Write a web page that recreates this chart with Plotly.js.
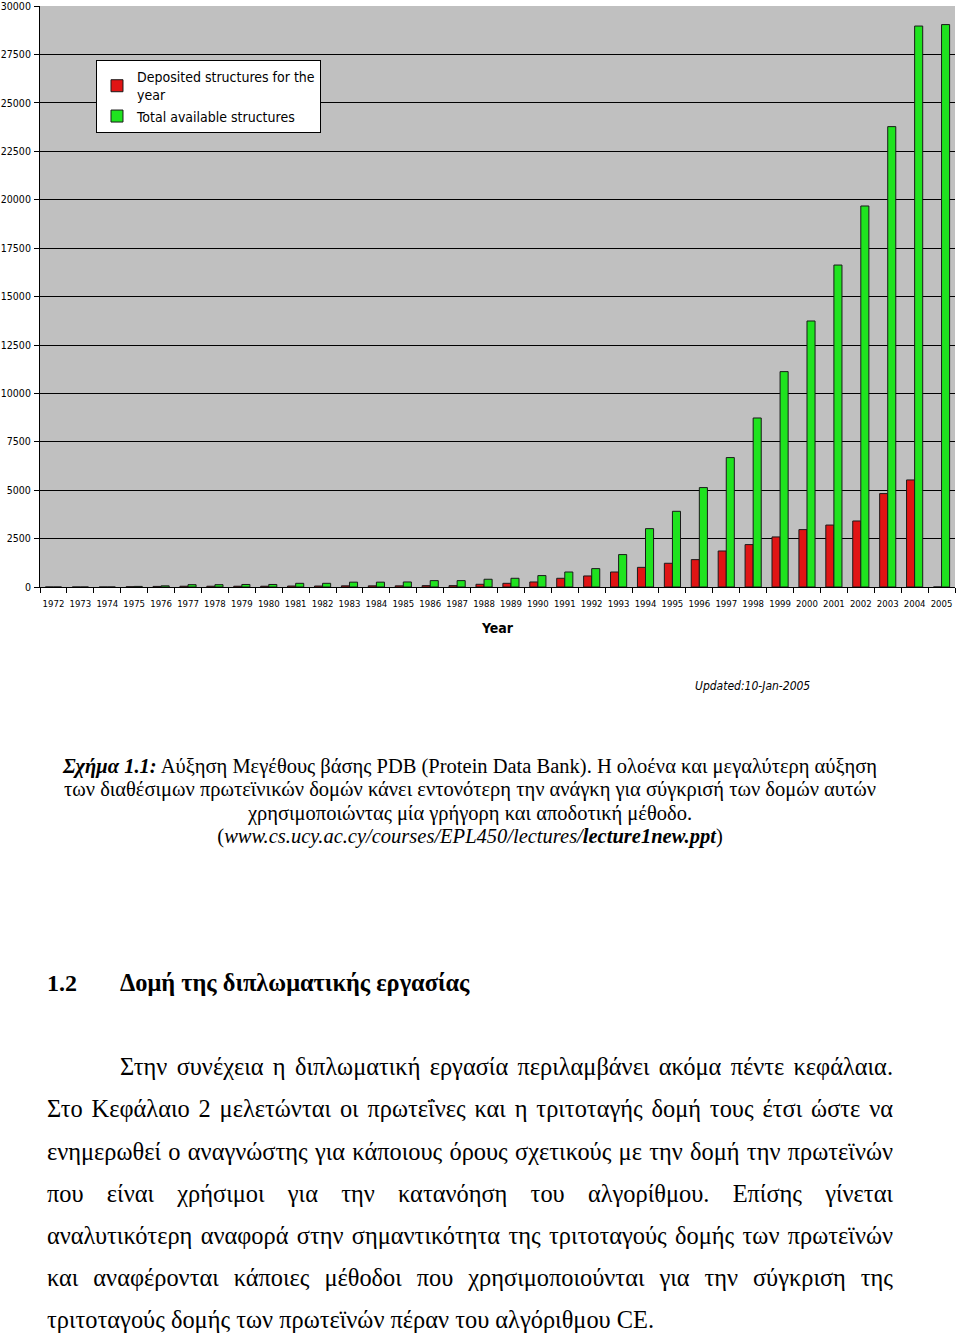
<!DOCTYPE html>
<html>
<head>
<meta charset="utf-8">
<script src="https://cdn.plot.ly/plotly-3.0.1.min.js"></script>
<style>
  html, body { margin: 0; padding: 0; background: #fff; }
  body { width: 960px; height: 1336px; position: relative; overflow: hidden; }
  #chart { position: absolute; left: 0; top: 0; width: 960px; height: 710px; }
  .serif { font-family: "Liberation Serif", "Times New Roman", serif; color: #000; position: absolute; }
  .cap { left: 0; width: 940px; text-align: center; font-size: 20.5px; line-height: 24px; white-space: nowrap; }
  .para { left: 47px; width: 846px; font-size: 24.4px; line-height: 30px; text-align: justify; text-align-last: justify; }
  .last { text-align-last: left; }
</style>
</head>
<body>
<div id="chart"></div>

<div class="serif cap" style="top:754px"><i><b>Σχήμα 1.1:</b></i> Αύξηση Μεγέθους βάσης PDB (Protein Data Bank). Η ολοένα και μεγαλύτερη αύξηση</div>
<div class="serif cap" style="top:777px">των διαθέσιμων πρωτεϊνικών δομών κάνει εντονότερη την ανάγκη για σύγκρισή των δομών αυτών</div>
<div class="serif cap" style="top:801px">χρησιμοποιώντας μία γρήγορη και αποδοτική μέθοδο.</div>
<div class="serif cap" style="top:824px">(<i>www.cs.ucy.ac.cy/courses/EPL450/lectures/<b>lecture1new.ppt</b></i>)</div>

<div class="serif" style="left:47px; top:968px; font-size:24px; line-height:30px; font-weight:bold;">1.2</div>
<div class="serif" style="left:120px; top:968px; font-size:24.4px; line-height:30px; font-weight:bold;">Δομή της διπλωματικής εργασίας</div>

<div class="serif para" style="left:120px; width:773px; top:1052px">Στην συνέχεια η διπλωματική εργασία περιλαμβάνει ακόμα πέντε κεφάλαια.</div>
<div class="serif para" style="top:1094px">Στο Κεφάλαιο 2 μελετώνται οι πρωτεΐνες και η τριτοταγής δομή τους έτσι ώστε να</div>
<div class="serif para" style="top:1137px">ενημερωθεί ο αναγνώστης για κάποιους όρους σχετικούς με την δομή την πρωτεϊνών</div>
<div class="serif para" style="top:1179px">που είναι χρήσιμοι για την κατανόηση του αλγορίθμου. Επίσης γίνεται</div>
<div class="serif para" style="top:1221px">αναλυτικότερη αναφορά στην σημαντικότητα της τριτοταγούς δομής των πρωτεϊνών</div>
<div class="serif para" style="top:1263px">και αναφέρονται κάποιες μέθοδοι που χρησιμοποιούνται για την σύγκριση της</div>
<div class="serif para last" style="top:1305px">τριτοταγούς δομής των πρωτεϊνών πέραν του αλγόριθμου CE.</div>

<script>
const years = ["1972","1973","1974","1975","1976","1977","1978","1979","1980","1981",
  "1982","1983","1984","1985","1986","1987","1988","1989","1990","1991","1992","1993",
  "1994","1995","1996","1997","1998","1999","2000","2001","2002","2003","2004","2005"];

const deposited = [0, 0, 0, 15, 30, 40, 40, 40, 40, 50,
  50, 60, 60, 60, 70, 70, 140, 190, 260, 450, 570, 775,
  1015, 1225, 1415, 1860, 2190, 2585, 2965, 3200, 3410, 4825, 5530, 0];

const totalAvailable = [0, 0, 0, 30, 60, 120, 120, 130, 130, 190,
  190, 250, 250, 260, 330, 330, 400, 450, 590, 775, 950, 1675,
  3015, 3910, 5135, 6685, 8730, 11125, 13740, 16630, 19680, 23780, 28975, 29050];

const yTicks = [0, 2500, 5000, 7500, 10000, 12500, 15000, 17500, 20000, 22500, 25000, 27500, 30000];

const seriesNames = ["Deposited structures for the<br>year", "Total available structures"];

const condensed = "DejaVu Sans Condensed, sans-serif";

const traces = [
  { type: "bar", name: seriesNames[0], x: years, y: deposited,
    marker: { color: "#e01414", line: { color: "#1a1a1a", width: 1 } } },
  { type: "bar", name: seriesNames[1], x: years, y: totalAvailable,
    marker: { color: "#1fe31f", line: { color: "#1a1a1a", width: 1 } } }
];

const layout = {
  width: 960, height: 710,
  margin: { l: 40, r: 5, t: 6, b: 123 },
  paper_bgcolor: "#ffffff",
  plot_bgcolor: "#c0c0c0",
  barmode: "group",
  bargap: 0.4,
  bargroupgap: 0,
  showlegend: true,
  legend: {
    x: 0.0612, y: 0.907, xanchor: "left", yanchor: "top",
    bgcolor: "#ffffff", bordercolor: "#000000", borderwidth: 1,
    itemwidth: 30,
    font: { family: condensed, size: 14, color: "#000" },
    tracegroupgap: 2
  },
  xaxis: {
    type: "category",
    tickson: "boundaries",
    ticks: "outside", ticklen: 5, tickcolor: "#000", tickwidth: 1,
    ticklabelstandoff: 8,
    tickangle: 0,
    showline: true, linecolor: "#000", linewidth: 1,
    showgrid: false,
    tickfont: { family: condensed, size: 9.5, color: "#000" },
    title: { text: "<b>Year</b>", standoff: 14,
      font: { family: condensed, size: 14, color: "#000" } }
  },
  yaxis: {
    range: [0, 30010],
    tickvals: yTicks,
    ticktext: yTicks.map(String),
    ticks: "outside", ticklen: 5, tickcolor: "#000", tickwidth: 1,
    ticklabelstandoff: 1,
    ticklabeloverflow: "allow",
    showline: true, linecolor: "#000", linewidth: 1,
    showgrid: true, gridcolor: "#000000", gridwidth: 1,
    zeroline: false,
    tickfont: { family: condensed, size: 10.5, color: "#000" }
  },
  annotations: [
    { xref: "paper", yref: "paper", x: (752 - 40) / 915, y: (587 - 686) / 581,
      xanchor: "center", yanchor: "middle", showarrow: false,
      text: "<i>Updated:10-Jan-2005</i>",
      font: { family: condensed, size: 12, color: "#000" } }
  ]
};

Plotly.newPlot("chart", traces, layout, { displayModeBar: false, staticPlot: true });
</script>
</body>
</html>
